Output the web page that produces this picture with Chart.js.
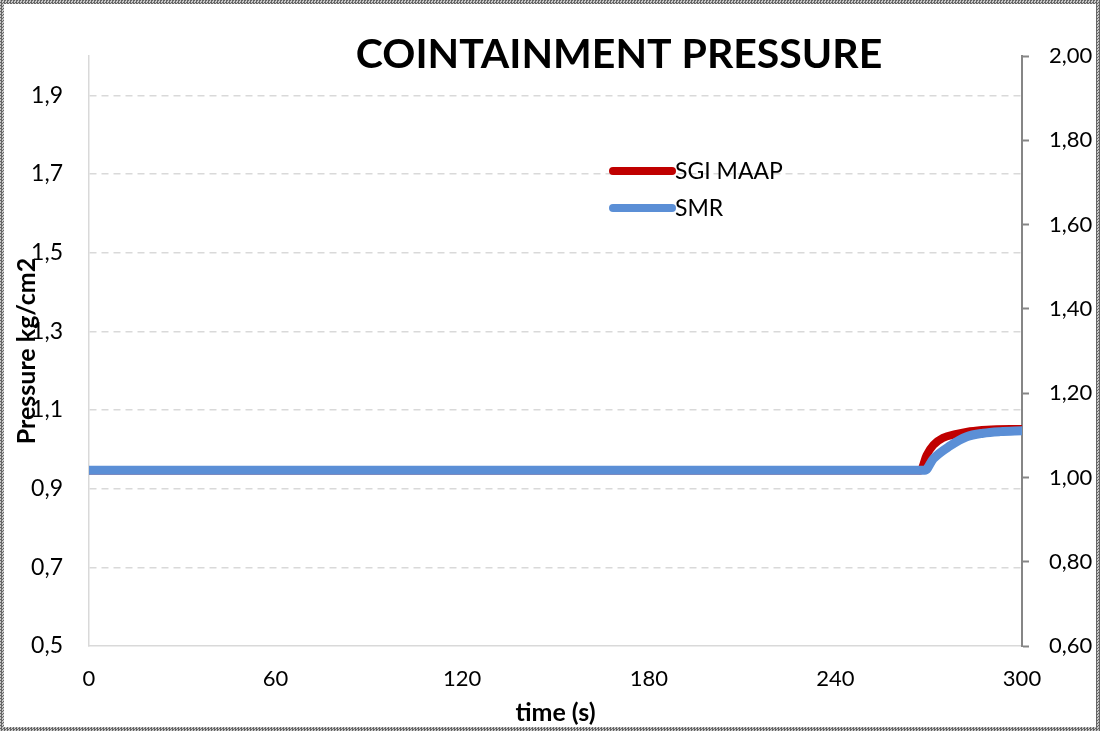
<!DOCTYPE html>
<html>
<head>
<meta charset="utf-8">
<script src="https://cdn.jsdelivr.net/npm/chart.js@4"></script>
<style>
  html, body { margin: 0; padding: 0; background: #fff; }
  #frame {
    position: relative; width: 1100px; height: 731px;
    background: repeating-conic-gradient(#666 0 25%, #c8c8c8 0 50%) 0 0 / 3px 3px;
  }
  #inner { position: absolute; left: 4px; top: 4px; right: 4px; bottom: 4px; background: #fff; }
  #chart { position: absolute; left: 0; top: 0; }
</style>
</head>
<body>
<div id="frame">
  <div id="inner"></div>
  <canvas id="chart" width="1100" height="731"></canvas>
</div>
<script>
// values
const sgiTime = [0, 267.3, 269.3, 271.5, 274.6, 279.0, 283.3, 288.7, 300];
const sgiPressure = [0.946, 0.946, 0.985, 1.011, 1.029, 1.039, 1.046, 1.050, 1.052];
const smrTime = [0, 268.8, 271.5, 276.9, 282.2, 287.5, 293, 300];
const smrPressure = [0.947, 0.947, 0.976, 1.009, 1.032, 1.041, 1.045, 1.047];

const timeTicks = [0, 60, 120, 180, 240, 300];
const leftTicks = [0.5, 0.7, 0.9, 1.1, 1.3, 1.5, 1.7, 1.9];
const rightTicks = [0.6, 0.8, 1.0, 1.2, 1.4, 1.6, 1.8, 2.0];

const FONT = "Lato, 'Open Sans', sans-serif";
const toComma = (v, d) => v.toFixed(d).replace(".", ",");

const titlePlugin = {
  id: "chartTitle",
  afterDraw(chart) {
    const ctx = chart.ctx;
    ctx.save();
    ctx.font = "bold 41px " + FONT;
    ctx.fillStyle = "#000";
    ctx.textAlign = "center";
    ctx.textBaseline = "middle";
    ctx.fillText("COINTAINMENT PRESSURE", 619, 55);
    ctx.restore();
  }
};

const legendPlugin = {
  id: "innerLegend",
  afterDraw(chart) {
    const ctx = chart.ctx;
    const x0 = 613, x1 = 672;
    const rows = [171, 208];
    ctx.save();
    ctx.font = "23px " + FONT;
    ctx.textBaseline = "middle";
    chart.data.datasets.forEach((ds, i) => {
      ctx.strokeStyle = ds.borderColor;
      ctx.lineWidth = 8;
      ctx.lineCap = "round";
      ctx.beginPath();
      ctx.moveTo(x0, rows[i]);
      ctx.lineTo(x1, rows[i]);
      ctx.stroke();
      ctx.fillStyle = "#000";
      ctx.fillText(ds.label, x1 + 3, rows[i] + 1);
    });
    ctx.restore();
  }
};

new Chart(document.getElementById("chart"), {
  type: "line",
  data: {
    datasets: [
      {
        label: "SGI MAAP",
        data: sgiTime.map((t, i) => ({ x: t, y: sgiPressure[i] })),
        borderColor: "#c00000",
        borderWidth: 8,
        order: 1
      },
      {
        label: "SMR",
        data: smrTime.map((t, i) => ({ x: t, y: smrPressure[i] })),
        borderColor: "#5b8fd6",
        borderWidth: 9,
        order: 0
      }
    ]
  },
  options: {
    responsive: false,
    animation: false,
    layout: { padding: { top: 56, left: 0, right: 0, bottom: 0 } },
    elements: {
      point: { radius: 0 },
      line: { cubicInterpolationMode: "monotone", borderCapStyle: "round", borderJoinStyle: "round" }
    },
    plugins: { legend: { display: false }, tooltip: { enabled: false } },
    scales: {
      x: {
        type: "linear",
        min: 0, max: 300,
        afterBuildTicks: s => { s.ticks = timeTicks.map(v => ({ value: v })); },
        afterFit: s => { s.height = 85; },
        grid: { display: false },
        border: { color: "#d9d9d9", width: 1.5 },
        ticks: { color: "#000", font: { family: FONT, size: 22 }, padding: 12, maxRotation: 0 },
        title: { display: true, text: "time (s)", color: "#000", font: { family: FONT, size: 25, weight: "bold" }, padding: { top: 0, bottom: 3 } }
      },
      y: {
        position: "left",
        min: 0.5, max: 2.0,
        afterBuildTicks: s => { s.ticks = leftTicks.map(v => ({ value: v })); },
        afterFit: s => { s.width = 89; },
        grid: {
          drawTicks: false,
          color: c => (c.tick && c.tick.value === 0.5 ? "rgba(0,0,0,0)" : "#d9d9d9"),
          lineWidth: 1.5
        },
        border: { color: "#d9d9d9", width: 1.5, dash: [7, 5] },
        ticks: { color: "#000", font: { family: FONT, size: 23 }, padding: 26, callback: v => toComma(v, 1) },
        title: { display: true, text: "Pressure kg/cm2", color: "#000", font: { family: FONT, size: 25, weight: "bold" }, padding: { top: 12, bottom: 0 } }
      },
      y1: {
        position: "right",
        min: 0.6, max: 2.0,
        afterBuildTicks: s => { s.ticks = rightTicks.map(v => ({ value: v })); },
        afterFit: s => { s.width = 78; },
        grid: { drawOnChartArea: false, drawTicks: true, tickLength: 7, tickColor: "#868686", tickWidth: 2 },
        border: { color: "#868686", width: 2 },
        ticks: { color: "#000", font: { family: FONT, size: 22 }, padding: 20, callback: v => toComma(v, 2) }
      }
    }
  },
  plugins: [titlePlugin, legendPlugin]
});
</script>
</body>
</html>
